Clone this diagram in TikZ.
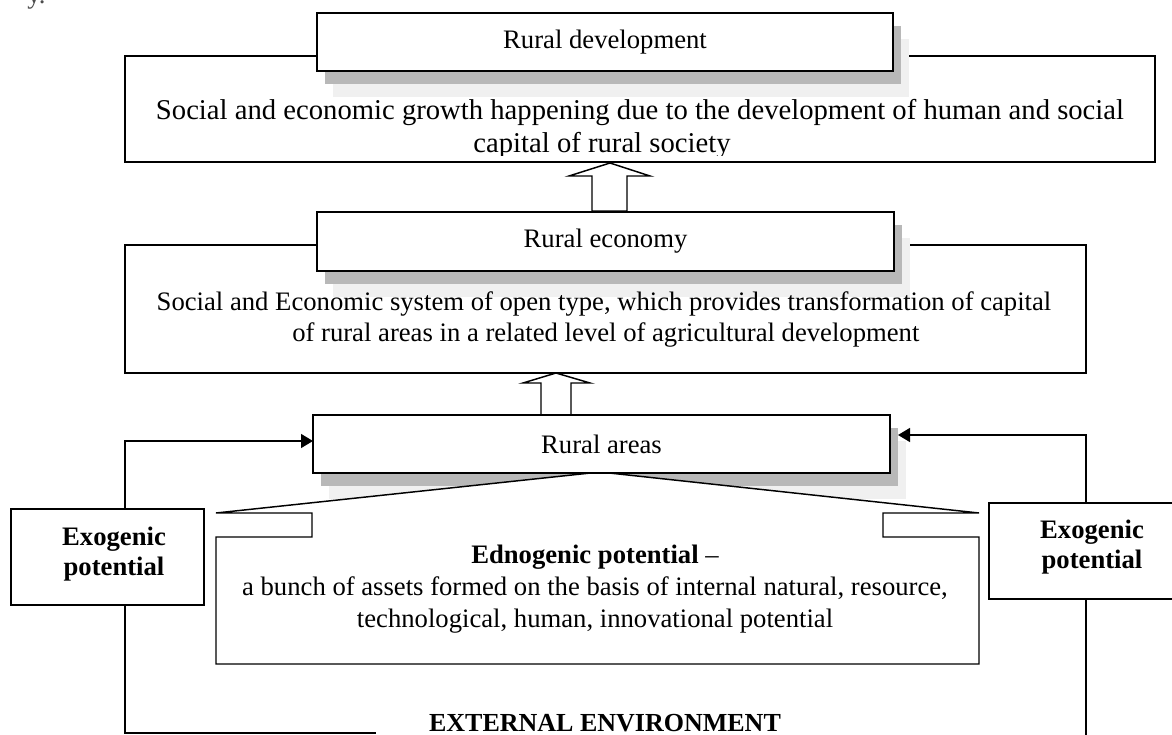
\documentclass[tikz,border=0pt]{standalone}
\usepackage{fontspec}
\setmainfont{Liberation Serif}
\usetikzlibrary{arrows.meta}
\definecolor{shdark}{HTML}{B8B8B8}
\definecolor{shlight}{HTML}{F0F0F0}
\begin{document}
\begin{tikzpicture}[x=0.75pt,y=-0.75pt,
  font=\fontsize{20}{24}\selectfont,
  box/.style={draw, fill=white, line width=1.1pt, inner sep=0pt, align=center},
  txt/.style={inner sep=0pt, anchor=base},
  bigtxt/.style={font=\fontsize{21.5}{24}\selectfont},
  bold/.style={font=\fontsize{20}{22.5}\selectfont\bfseries},
  conn/.style={line width=1.1pt},
  tip/.style={-{Triangle[length=9pt,width=10.5pt]}},
  blockarrow/.style={draw, fill=white, line width=1.1pt, line join=miter}]
\useasboundingbox (0,0) rectangle (1172,735);
% shadow: top-left corner (x,y), width, height of the box
\newcommand{\dropshadow}[4]{%
  \fill[shlight] (#1+16,#2+26) rectangle (#1+#3+16,#2+#4+26);
  \fill[shdark] (#1+8,#2+13) rectangle (#1+#3+8,#2+#4+13);}

% fragment of preceding text
\node[txt, anchor=base west, text=black!70] (frag) at (27,4) {y.};

% ---- top level
\node[box, minimum width=772.5pt, minimum height=79.5pt] (B) at (640,109) {};
\dropshadow{317}{13}{576}{58}
\node[box, minimum width=432pt, minimum height=43.5pt] (A) at (605,42) {Rural development};
\node[txt, bigtxt] (B1) at (640,120) {Social and economic growth happening due to the development of human and social};
\begin{scope}
\clip (125,56) rectangle (1155,156);
\node[txt, bigtxt] (B2) at (602,152) {capital of rural society};
\end{scope}

% ---- arrow 1
\draw[blockarrow] (610,163) -- (650,176) -- (627,176) -- (627,211) -- (592,211) -- (592,176) -- (569,176) -- cycle;

% ---- middle level
\node[box, minimum width=720.75pt, minimum height=96pt] (D) at (605.5,309) {};
\dropshadow{317}{212}{577}{59}
\node[box, minimum width=432.75pt, minimum height=44.25pt] (C) at (605.5,241.5) {Rural economy};
\node[txt] (D1) at (604,310) {Social and Economic system of open type, which provides transformation of capital};
\node[txt, anchor=base west] (D2) at (292,341) {of rural areas in a related level of agricultural development};

% ---- arrow 2
\draw[blockarrow] (556,373) -- (590,383) -- (571,383) -- (571,415) -- (541,415) -- (541,383) -- (523,383) -- cycle;

% ---- rural areas + callout
\dropshadow{313}{415}{577}{58}
\draw[line width=1.1pt, fill=white, line join=miter]
  (600,472) -- (216,513) -- (312,513) -- (312,537) -- (216,537) -- (216,664)
  -- (979,664) -- (979,537) -- (883,537) -- (883,513) -- (979,513) -- cycle;
\node[box, minimum width=432.75pt, minimum height=43.5pt] (E) at (601.5,444) {Rural areas};
\node[txt] (G1) at (595,563) {\textbf{Ednogenic potential} –};
\node[txt] (G2) at (595,595) {a bunch of assets formed on the basis of internal natural, resource,};
\node[txt] (G3) at (595,627) {technological, human, innovational potential};

% ---- exogenic boxes
\node[box, minimum width=144.75pt, minimum height=72pt] (L) at (107.5,557) {};
\node[txt, bold] (L1) at (114,545) {Exogenic};
\node[txt, bold] (L2) at (114,575) {potential};
\node[box, minimum width=154.5pt, minimum height=72pt] (R) at (1092,551) {};
\node[txt, bold] (R1) at (1092,538) {Exogenic};
\node[txt, bold] (R2) at (1092,568) {potential};

% ---- connectors
\coordinate (lx) at (125,0);
\coordinate (rx) at (1086,0);
\coordinate (Ein) at (313,441);
\coordinate (Ein2) at (898,435);
\coordinate (lend) at (376,733);
\coordinate (rend) at (1086,740);
\draw[conn, tip] (L.north -| lx) |- (Ein);
\draw[conn, tip] (R.north -| rx) |- (Ein2);
\draw[conn] (L.south -| lx) |- (lend);
\draw[conn] (R.south -| rx) -- (rend);

\node[txt, font=\fontsize{19.5}{22}\selectfont\bfseries] (X) at (605,731) {EXTERNAL ENVIRONMENT};
\end{tikzpicture}
\end{document}
